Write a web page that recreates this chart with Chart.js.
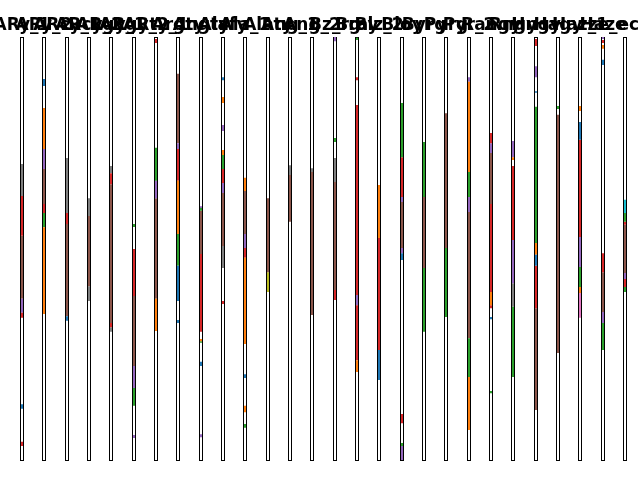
<!DOCTYPE html>
<html>
<head>
<meta charset="utf-8">
<script src="https://cdn.jsdelivr.net/npm/chart.js@4/dist/chart.umd.min.js"></script>
<style>
  html, body { margin: 0; padding: 0; background: #ffffff; }
  #wrap { position: relative; width: 640px; height: 480px; overflow: hidden; background: #ffffff; }
  #wrap canvas { position: absolute; top: 0; }
</style>
</head>
<body>
<div id="wrap"></div>
<script>
// Panel titles (one narrow panel each)
const titles = ["ARy_1","ARy_2","ARcy_1","ARcy_2","ARgy_1","ARgy_2","ARty_1","Argty",
  "Angty","Alafy","Ala_1","Alaty","Ang_1","Ang_2","Bz_rg","Bray","Blz_2","Bloy",
  "Byrg","Pyrg","Pyr_2","Rangy","Rngy","Hngy","Hagy","Haz_1","Haze","ze_ecgy"];

// Segments per series: [panel index, upper value, lower value] on a 0-100 value axis
const blue = [[0,13.2,12.1],[1,90.1,88.4],[2,34.0,32.9],[7,45.9,37.6],[7,33.1,32.4],[8,23.2,22.2],[9,90.5,89.8],
  [10,20.3,19.4],[16,26.0,18.9],[17,48.9,47.3],[21,33.8,33.3],[23,87.2,86.8],[23,48.5,45.9],[25,79.9,75.7],[26,94.6,93.4]];
const orange = [[1,83.2,73.5],[1,55.0,34.5],[6,38.1,30.5],[7,66.0,53.4],[8,28.6,28.1],[9,85.8,84.4],[9,73.3,72.1],
  [10,66.7,63.6],[10,47.8,27.4],[10,12.8,11.3],[15,23.6,20.8],[16,65.0,52.5],[20,89.4,68.1],[20,19.6,7.1],[21,39.7,36.6],
  [22,71.6,70.9],[23,51.3,48.5],[25,83.7,82.5],[25,40.9,39.5],[26,98.1,97.2]];
const green = [[1,58.4,55.0],[5,55.8,55.1],[5,17.0,12.8],[6,73.8,66.0],[7,53.4,45.9],[8,59.6,58.9],[8,28.1,27.7],
  [9,72.1,68.8],[10,8.5,7.6],[14,76.1,75.2],[15,99.8,99.3],[17,84.4,71.6],[17,4.0,3.3],[18,75.2,62.2],[18,45.4,30.3],
  [19,50.1,33.8],[20,68.1,62.2],[20,28.8,19.6],[21,16.3,15.8],[22,36.2,19.6],[23,83.5,51.3],[24,83.7,83.0],[25,45.6,40.9],
  [26,32.4,26.0],[27,58.4,56.3],[27,40.9,39.7]];
const red = [[0,62.4,53.0],[0,34.8,33.6],[0,4.3,3.3],[1,79.7,78.3],[1,60.5,58.4],[2,58.4,55.8],[4,67.8,65.2],[4,32.4,31.4],
  [5,49.9,38.8],[6,99.5,98.6],[7,73.5,66.0],[8,48.7,30.3],[9,68.8,65.5],[9,37.6,36.9],[10,50.1,47.8],[14,40.2,37.8],
  [15,90.5,89.8],[15,83.9,39.0],[15,36.6,23.6],[16,52.5,26.0],[17,71.6,62.2],[17,10.9,8.7],[21,77.3,74.9],[21,60.5,39.7],
  [21,36.6,35.9],[22,69.5,52.0],[23,99.5,97.9],[23,45.9,35.9],[25,75.7,52.7],[26,99.3,98.6],[26,48.9,44.4],
  [27,56.3,55.6],[27,42.8,40.9]];
const purple = [[0,38.1,34.8],[1,73.5,68.8],[5,22.2,17.0],[5,5.9,5.2],[6,66.0,61.9],[7,74.9,73.5],[8,60.0,59.6],[8,6.1,5.4],
  [9,79.2,77.8],[9,65.5,63.1],[10,53.4,50.1],[14,100,99.0],[15,39.0,36.6],[17,62.2,61.0],[17,50.1,48.9],[17,3.3,0],
  [20,90.5,89.4],[20,62.2,58.6],[21,74.9,72.6],[22,75.4,71.6],[22,52.0,41.8],[23,93.1,90.5],[25,52.7,45.6],[26,100,99.5],
  [26,35.0,32.4],[27,44.2,42.8]];
const brown = [[0,53.0,38.1],[1,68.8,60.5],[2,55.8,34.0],[3,57.7,41.1],[4,65.2,32.4],[5,38.8,22.2],[6,61.9,38.1],
  [7,91.3,74.9],[8,58.9,48.7],[9,63.1,50.6],[10,63.6,53.4],[11,61.9,44.4],[12,67.4,56.3],[13,68.1,34.3],[14,65.7,40.2],
  [17,61.0,50.1],[18,62.2,45.4],[19,82.0,50.1],[20,58.6,28.8],[21,72.6,60.5],[23,35.9,11.8],[24,81.6,25.3],
  [26,44.4,35.0],[27,55.6,44.2]];
const pink = [[25,39.5,33.6]];
const gray = [[0,70.0,62.4],[2,71.4,58.4],[3,61.9,57.7],[3,41.1,37.6],[4,69.5,67.8],[4,31.4,30.3],[9,50.6,45.4],
  [12,69.7,67.4],[13,69.0,68.1],[14,71.4,65.7],[22,41.8,36.2]];
const olive = [[11,44.4,39.7]];
const cyan = [[27,61.5,58.4]];

const series = [
  {segs: blue, color: '#1f77b4'}, {segs: orange, color: '#ff7f0e'}, {segs: green, color: '#2ca02c'},
  {segs: red, color: '#d62728'}, {segs: purple, color: '#9467bd'}, {segs: brown, color: '#8c564b'},
  {segs: pink, color: '#e377c2'}, {segs: gray, color: '#7f7f7f'}, {segs: olive, color: '#bcbd22'},
  {segs: cyan, color: '#17becf'}
];

const wrap = document.getElementById('wrap');
const CW = 160, CH = 480, LEFTW = 78, RIGHTW = 79;

const axisCommon = {
  display: true,
  ticks: { display: false },
  grid: { display: true, drawTicks: false, color: 'rgba(0,0,0,0)' },
  border: { display: true, color: '#000000', width: 1 }
};

titles.forEach((t, i) => {
  const L = Math.round(20 + 22.33 * i);
  const cv = document.createElement('canvas');
  cv.width = CW; cv.height = CH;
  cv.style.width = CW + 'px'; cv.style.height = CH + 'px';
  cv.style.left = (L - LEFTW) + 'px';
  wrap.appendChild(cv);

  const datasets = series.map(s => {
    const data = [];
    s.segs.filter(g => g[0] === i).forEach(g => {
      data.push({x: 0, y: g[1]}, {x: 0, y: g[2]}, {x: 0, y: null});
    });
    return {
      data, borderColor: s.color, backgroundColor: s.color, borderWidth: 2,
      pointRadius: 0, spanGaps: false, tension: 0, borderCapStyle: 'butt', fill: false,
      xAxisID: 'x', yAxisID: 'y'
    };
  });

  new Chart(cv, {
    type: 'line',
    data: { datasets },
    options: {
      responsive: false, animation: false, devicePixelRatio: 1,
      layout: { padding: { top: 0, bottom: 20, left: 0, right: 0 } },
      plugins: {
        legend: { display: false }, tooltip: { enabled: false },
        title: {
          display: true, text: t, color: '#000000',
          font: { family: 'DejaVu Sans', size: 17, weight: 'bold', lineHeight: 1.2 },
          padding: { top: 15, bottom: 1.6 }
        }
      },
      scales: {
        x: Object.assign({}, axisCommon, { type: 'linear', position: 'bottom', min: -2, max: 1 }),
        x2: Object.assign({}, axisCommon, { type: 'linear', position: 'top', min: -2, max: 1 }),
        y: Object.assign({}, axisCommon, { type: 'linear', position: 'left', min: 0, max: 100,
              afterFit: (sc) => { sc.width = LEFTW; } }),
        y2: Object.assign({}, axisCommon, { type: 'linear', position: 'right', min: 0, max: 100,
              afterFit: (sc) => { sc.width = RIGHTW; } })
      }
    }
  });
});
</script>
</body>
</html>
